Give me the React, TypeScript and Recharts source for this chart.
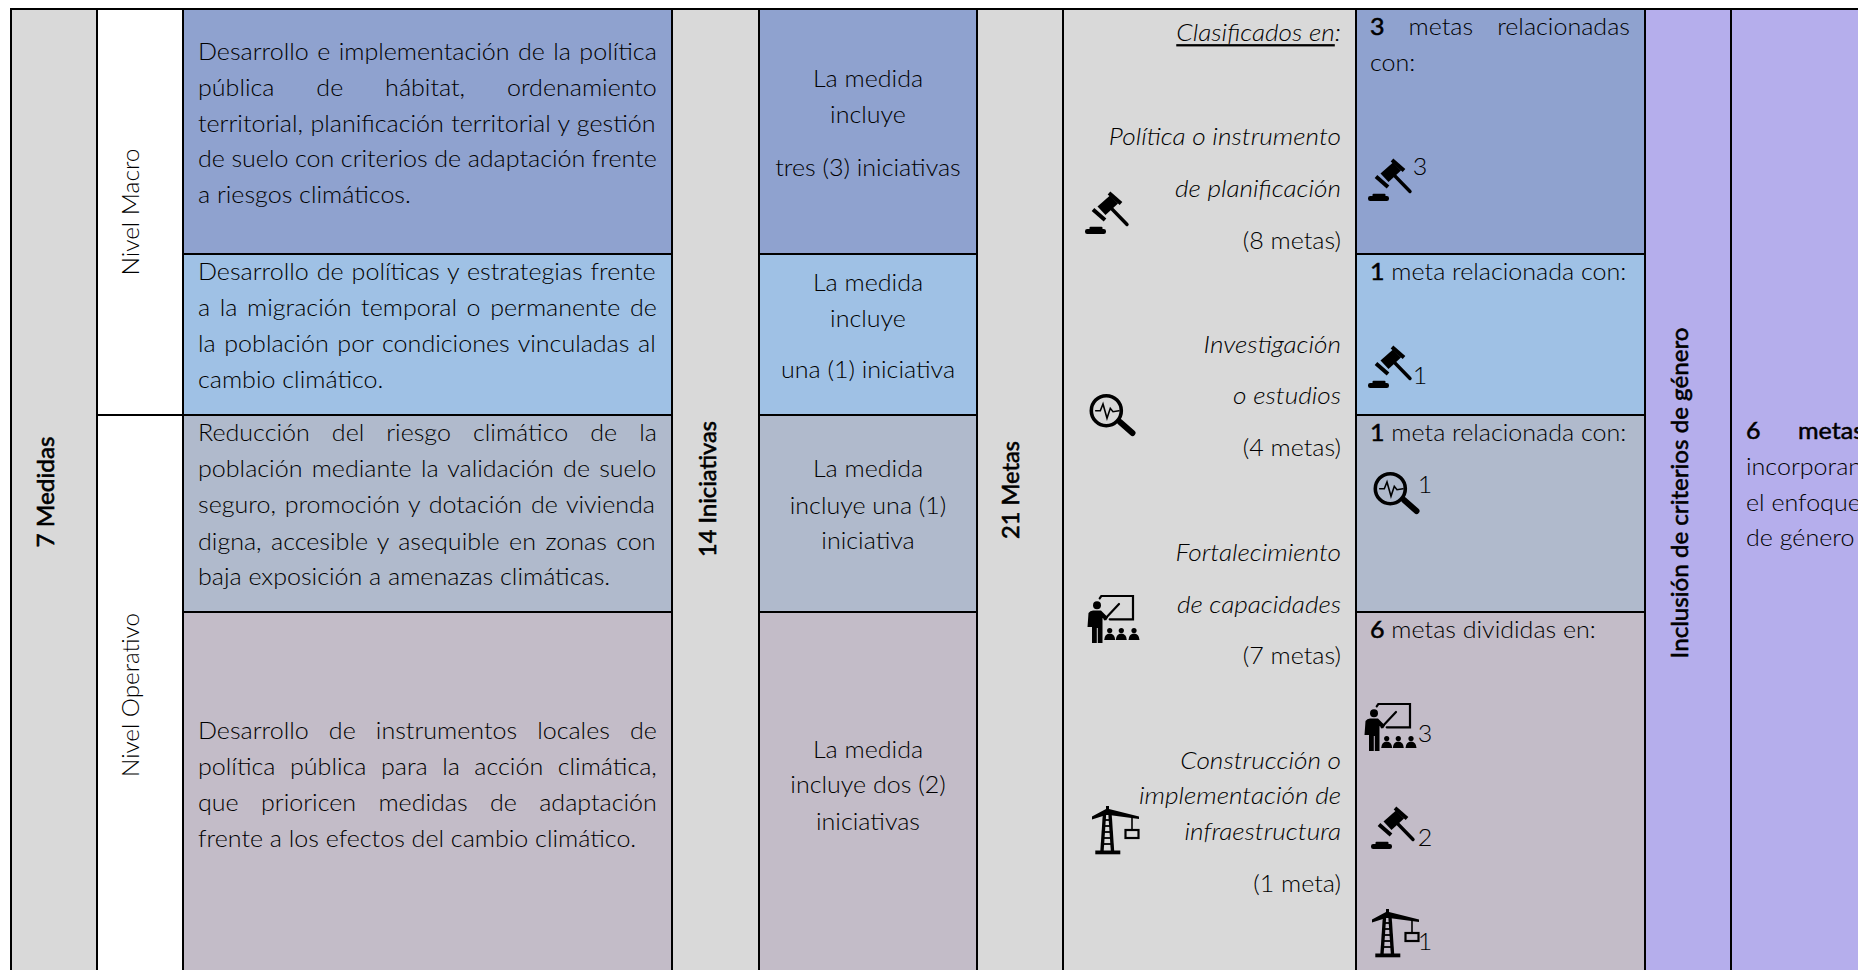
import React from 'react';
import { ComposedChart, Line, XAxis, YAxis, ReferenceArea, ReferenceDot } from 'recharts';

// table structure
const columnEdges = [11, 97, 183, 672, 759, 977, 1063, 1356, 1645, 1731, 1870];
const rowEdges = [9, 254, 415, 612, 980];
const rowColors = ['#8FA2CF', '#9FC1E5', '#B0BACC', '#C3BCC8'];
const GREY = '#D9D9D9';
const LAVENDER = '#B5AEEC';
const frame = [{ x: 0, y: 0 }, { x: 1870, y: 980 }];

// texts
const medidaLines = [
  ['Desarrollo e implementación de la política', 'pública de hábitat, ordenamiento', 'territorial, planificación territorial y gestión', 'de suelo con criterios de adaptación frente', 'a riesgos climáticos.'],
  ['Desarrollo de políticas y estrategias frente', 'a la migración temporal o permanente de', 'la población por condiciones vinculadas al', 'cambio climático.'],
  ['Reducción del riesgo climático de la', 'población mediante la validación de suelo', 'seguro, promoción y dotación de vivienda', 'digna, accesible y asequible en zonas con', 'baja exposición a amenazas climáticas.'],
  ['Desarrollo de instrumentos locales de', 'política pública para la acción climática,', 'que prioricen medidas de adaptación', 'frente a los efectos del cambio climático.'],
];
const iniciativaLines = [
  ['La medida', 'incluye', 'tres (3) iniciativas'],
  ['La medida', 'incluye', 'una (1) iniciativa'],
  ['La medida', 'incluye una (1)', 'iniciativa'],
  ['La medida', 'incluye dos (2)', 'iniciativas'],
];
const clasificadosLines = [
  'Política o instrumento', 'de planificación', '(8 metas)',
  'Investigación', 'o estudios', '(4 metas)',
  'Fortalecimiento', 'de capacidades', '(7 metas)',
  'Construcción o', 'implementación de', 'infraestructura', '(1 meta)',
];
const metaLines = ['3 metas relacionadas', 'con:', '1 meta relacionada con:', '1 meta relacionada con:', '6 metas divididas en:'];
const iconCounts = ['3', '1', '1', '3', '2', '1'];
const generoLines = ['incorporan', 'el enfoque', 'de género'];
const verticalLabels = ['7 Medidas', 'Nivel Macro', 'Nivel Operativo', '14 Iniciativas', '21 Metas', 'Inclusión de criterios de género'];

// where the lines sit
const medidaY = [[52, 88, 124, 159, 195], [272, 308, 344, 380], [433, 469, 505, 542, 577], [731, 767, 803, 839]];
const iniciativaY = [[79, 115, 168], [283, 319, 370], [469, 506, 541], [750, 785, 822]];
const clasificadosY = [137, 189, 241, 345, 396, 448, 553, 605, 656, 761, 796, 832, 884];
const metaY = [26, 63, 271, 432, 629];
const countPos = [[1420, 167], [1420, 376], [1425, 485], [1425, 734], [1425, 838], [1425, 942]];
const generoY = [467, 503, 538];
const verticalPos = [[45, 492, 111, 500], [130, 212, 127, 300], [130, 695, 164, 300], [706, 489, 136, 500], [1009, 490, 98, 500], [1679, 493, 331, 500]];
const iconPos: [string, number, number][] = [
  ['gavel', 1085, 191], ['lens', 1088, 394], ['teacher', 1087, 595], ['crane', 1091, 806],
  ['gavel', 1368, 158], ['gavel', 1368, 345], ['lens', 1372, 472], ['teacher', 1364, 703], ['gavel', 1371, 806], ['crane', 1371, 909],
];

const FONT = 'Lato';
const SIZE = 23;
const SX = 1.09;
const SX_ITALIC = 1.14;
const INK = '#000';

const ctx = document.createElement('canvas').getContext('2d')!;
const measure = (s: string, weight = 300, italic = false, size = SIZE) => {
  ctx.font = `${italic ? 'italic ' : ''}${weight} ${size}px ${FONT}`;
  return ctx.measureText(s).width;
};

const LineText = ({ cx, cy, text, anchor = 'start', width, italic = false, boldFirst = false, children }: any) => {
  let wordSpacing = 0;
  const sx = italic ? SX_ITALIC : SX;
  const words = text.split(' ');
  const first = words[0];
  const rest = text.slice(first.length);
  if (width) {
    const natural = boldFirst ? measure(first, 700) + measure(rest) : measure(text, 300, italic);
    wordSpacing = (width / sx - natural) / (words.length - 1);
  }
  return (
    <text
      transform={`translate(${cx},${cy - 1}) scale(${sx},1)`}
      textAnchor={anchor}
      dominantBaseline="central"
      fontFamily={FONT}
      fontSize={SIZE}
      fontWeight={300}
      fontStyle={italic ? 'italic' : 'normal'}
      fill={INK}
      style={{ wordSpacing }}
    >
      {children ?? (boldFirst ? (
        <>
          <tspan fontWeight={400} stroke="#000" strokeWidth={0.5}>{first}</tspan>
          <tspan>{rest}</tspan>
        </>
      ) : text)}
    </text>
  );
};

const VerticalText = ({ cx, cy, text, length, weight }: any) => {
  const heavy = weight >= 500;
  const base = heavy ? 400 : 300;
  const scale = length / measure(text, base, false, 24);
  return (
    <text
      transform={`translate(${cx},${cy}) rotate(-90) scale(${scale},1)`}
      textAnchor="middle"
      dominantBaseline="central"
      fontFamily={FONT}
      fontSize={24}
      fontWeight={base}
      fill="#000"
      stroke={heavy ? '#000' : 'none'}
      strokeWidth={heavy ? 0.6 : 0}
    >
      {text}
    </text>
  );
};

const Icon = ({ cx, cy, kind }: any) => {
  const line = { stroke: '#000', fill: 'none', strokeLinecap: 'round' as const };
  return (
    <g transform={`translate(${cx},${cy})`}>
      {kind === 'gavel' && (
        <>
          <line x1={24} y1={2} x2={36} y2={12.5} {...line} strokeWidth={4} strokeLinecap="butt" />
          <line x1={8} y1={18.5} x2={20} y2={29} {...line} strokeWidth={4} strokeLinecap="butt" />
          <polygon points="12.5,15.5 25,4.5 33,12.5 20.5,24" fill="#000" />
          <line x1={26} y1={17} x2={42} y2={33.5} {...line} strokeWidth={3.4} />
          <rect x={0} y={38} width={21} height={5} rx={2.2} fill="#000" />
          <rect x={4.5} y={35.8} width={13} height={3.5} rx={1} fill="#000" />
        </>
      )}
      {kind === 'lens' && (
        <>
          <circle cx={18.3} cy={16.7} r={15} {...line} strokeWidth={3.6} />
          <line x1={32} y1={28} x2={44.5} y2={39} {...line} strokeWidth={6} />
          <polyline points="7.7,16.7 12.3,16.7 15,10 19,24.3 22.3,14.3 25,17.7 31,16.7" {...line} strokeWidth={1.6} />
        </>
      )}
      {kind === 'teacher' && (
        <>
          <polyline points="12.7,3.3 14.3,1 46,1 46,24.3 22.7,24.3" {...line} strokeWidth={2.2} />
          <line x1={17.7} y1={24.3} x2={32} y2={9} {...line} strokeWidth={2.2} />
          <circle cx={10} cy={10.3} r={4} fill="#000" />
          <path d="M0.5,32 L1.5,18 Q3,15.5 6,15.5 L14,15.5 L21,22.5 L19,25.5 L15.5,23 L15.5,48 L10.8,48 L10.8,33 L9.8,33 L9.8,48 L5,48 L5,32 L3.5,32 Z" fill="#000" />
          {[22.7, 34.3, 47].map((x) => (
            <g key={x}>
              <circle cx={x} cy={35.5} r={2.6} fill="#000" />
              <path d={`M${x - 5.5},45 Q${x - 5},38.5 ${x},38.5 Q${x + 5},38.5 ${x + 5.5},45 Z`} fill="#000" />
            </g>
          ))}
        </>
      )}
      {kind === 'crane' && (
        <>
          <polygon points="1,10.5 15,3 15,0 18,0 18,3 48,10.5 48,13 18,9 15,9 1,13.5" fill="#000" />
          <line x1={13.5} y1={8} x2={11} y2={45} {...line} strokeWidth={3.4} strokeLinecap="butt" />
          <line x1={19} y1={8} x2={21.5} y2={45} {...line} strokeWidth={3.4} strokeLinecap="butt" />
          {[14, 20, 26, 32, 38].map((y) => (
            <line key={y} x1={13} y1={y} x2={20} y2={y} {...line} strokeWidth={1.8} strokeLinecap="butt" />
          ))}
          <rect x={4.3} y={44.5} width={25} height={3.8} fill="#000" />
          <line x1={41} y1={11} x2={41} y2={24} {...line} strokeWidth={1.6} />
          <rect x={34.5} y={24} width={13} height={8} fill="none" stroke="#000" strokeWidth={2.2} />
        </>
      )}
    </g>
  );
};

// small helper so all free text and glyphs go through the chart's scales
const at = (key: string, x: number, y: number, draw: (p: any) => React.ReactElement) => (
  <ReferenceDot key={key} x={x} y={y} r={0} ifOverflow="visible" shape={draw as any} />
);

export default function App() {
  const cells: React.ReactElement[] = [];
  const cell = (key: string, c0: number, c1: number, r0: number, r1: number, fill: string) =>
    cells.push(
      <ReferenceArea
        key={key}
        x1={columnEdges[c0]}
        x2={columnEdges[c1]}
        y1={rowEdges[r0]}
        y2={rowEdges[r1]}
        fill={fill}
        fillOpacity={1}
        stroke="#000"
        strokeWidth={2}
        ifOverflow="visible"
      />,
    );
  cell('medidas', 0, 1, 0, 4, GREY);
  cell('macro', 1, 2, 0, 2, '#FFFFFF');
  cell('oper', 1, 2, 2, 4, '#FFFFFF');
  cell('inic', 3, 4, 0, 4, GREY);
  cell('metas', 5, 6, 0, 4, GREY);
  cell('clas', 6, 7, 0, 4, GREY);
  cell('crit', 8, 9, 0, 4, LAVENDER);
  cell('gen', 9, 10, 0, 4, LAVENDER);
  rowColors.forEach((color, r) => {
    cell(`a${r}`, 2, 3, r, r + 1, color);
    cell(`b${r}`, 4, 5, r, r + 1, color);
    cell(`c${r}`, 7, 8, r, r + 1, color);
  });

  return (
    <div style={{ position: 'fixed', left: 0, top: 0, width: 1858, height: 970, overflow: 'hidden', background: '#fff' }}>
      <ComposedChart width={1870} height={980} data={frame} margin={{ top: 0, right: 0, bottom: 0, left: 0 }}>
        <XAxis type="number" dataKey="x" domain={[0, 1870]} hide />
        <YAxis type="number" dataKey="y" domain={[0, 980]} reversed hide />
        <Line dataKey="y" stroke="none" dot={false} isAnimationActive={false} />
        {cells}

        {verticalLabels.map((t, i) =>
          at(`v${i}`, verticalPos[i][0], verticalPos[i][1], (p) => (
            <VerticalText cx={p.cx} cy={p.cy} text={t} length={verticalPos[i][2]} weight={verticalPos[i][3]} />
          )),
        )}

        {medidaLines.flatMap((lines, r) =>
          lines.map((t, i) =>
            at(`m${r}${i}`, 198, medidaY[r][i], (p) => (
              <LineText cx={p.cx} cy={p.cy} text={t} width={i < lines.length - 1 ? 459 : undefined} />
            )),
          ),
        )}

        {iniciativaLines.flatMap((lines, r) =>
          lines.map((t, i) =>
            at(`i${r}${i}`, 868, iniciativaY[r][i], (p) => <LineText cx={p.cx} cy={p.cy} text={t} anchor="middle" />),
          ),
        )}

        {at('clasif', 1341, 33, (p) => (
          <LineText cx={p.cx} cy={p.cy} text="Clasificados en:" anchor="end" italic>
            <tspan textDecoration="underline">Clasificados en</tspan>:
          </LineText>
        ))}
        {clasificadosLines.map((t, i) =>
          at(`c${i}`, 1341, clasificadosY[i], (p) => (
            <LineText cx={p.cx} cy={p.cy} text={t} anchor="end" italic={!t.startsWith('(')} />
          )),
        )}

        {metaLines.map((t, i) =>
          at(`t${i}`, 1370, metaY[i], (p) => (
            <LineText cx={p.cx} cy={p.cy} text={t} boldFirst={i !== 1} width={i === 0 ? 260 : undefined} />
          )),
        )}
        {iconCounts.map((t, i) =>
          at(`n${i}`, countPos[i][0], countPos[i][1], (p) => <LineText cx={p.cx} cy={p.cy} text={t} anchor="middle" />),
        )}
        {iconPos.map(([kind, x, y], i) => at(`ic${i}`, x, y, (p) => <Icon cx={p.cx} cy={p.cy} kind={kind} />))}

        {at('g6', 1746, 430, (p) => <LineText cx={p.cx} cy={p.cy} text="6" boldFirst />)}
        {at('gm', 1798, 430, (p) => <LineText cx={p.cx} cy={p.cy} text="metas" boldFirst />)}
        {generoLines.map((t, i) => at(`g${i}`, 1746, generoY[i], (p) => <LineText cx={p.cx} cy={p.cy} text={t} />))}
      </ComposedChart>
    </div>
  );
}
